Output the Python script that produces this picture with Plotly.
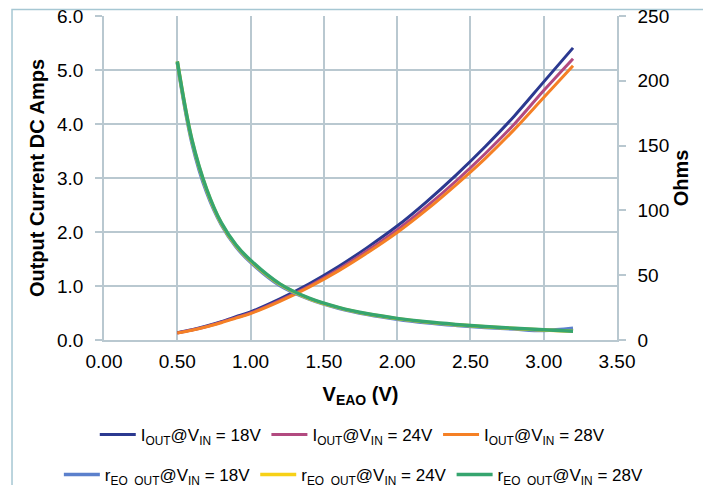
import plotly.graph_objects as go

v_eao = [0.5, 0.6, 0.7, 0.8, 0.9, 1.0, 1.2, 1.4, 1.6, 1.8, 2.0, 2.2, 2.4, 2.6, 2.8, 3.0, 3.2]

iout_18 = [0.135, 0.19, 0.26, 0.34, 0.43, 0.52, 0.76, 1.04, 1.36, 1.72, 2.11, 2.56, 3.05, 3.58, 4.15, 4.78, 5.41]
iout_24 = [0.13, 0.185, 0.25, 0.33, 0.415, 0.50, 0.735, 1.00, 1.31, 1.66, 2.04, 2.47, 2.94, 3.45, 4.00, 4.62, 5.21]
iout_28 = [0.13, 0.18, 0.245, 0.32, 0.405, 0.49, 0.715, 0.98, 1.28, 1.62, 1.99, 2.41, 2.87, 3.36, 3.90, 4.49, 5.08]

r_18 = [214, 152, 114, 89, 72, 60, 42, 31.5, 24.5, 19.6, 16.0, 13.3, 11.3, 9.7, 8.4, 7.3, 9.0]
r_24 = [215, 154, 116, 90, 73, 61, 43, 32, 25, 20, 16.5, 13.8, 11.8, 10.2, 8.9, 7.8, 6.8]
r_28 = [215, 154.5, 116.5, 90.5, 73.5, 61.5, 43.3, 32.3, 25.2, 20.2, 16.7, 14.0, 12.0, 10.4, 9.0, 7.9, 6.8]

x_ticks = [0.0, 0.5, 1.0, 1.5, 2.0, 2.5, 3.0, 3.5]
y_ticks = [0, 1, 2, 3, 4, 5, 6]
y2_ticks = [0, 50, 100, 150, 200, 250]

names_i = ["I<sub>OUT</sub>@V<sub>IN</sub> = 18V", "I<sub>OUT</sub>@V<sub>IN</sub> = 24V", "I<sub>OUT</sub>@V<sub>IN</sub> = 28V"]
names_r = ["r<sub>EO_OUT</sub>@V<sub>IN</sub> = 18V", "r<sub>EO_OUT</sub>@V<sub>IN</sub> = 24V", "r<sub>EO_OUT</sub>@V<sub>IN</sub> = 28V"]

col_i = ["#2b3990", "#b24a80", "#f58025"]
col_r = ["#5b80cc", "#f7d117", "#36a56f"]

FONT = "Liberation Sans, Arial, sans-serif"
GRID = "#b9c8d0"

fig = go.Figure()
for ys, nm, c in zip([iout_18, iout_24, iout_28], names_i, col_i):
    fig.add_trace(go.Scatter(x=v_eao, y=ys, name=nm, mode="lines",
                             line=dict(color=c, width=3, shape="spline"),
                             legend="legend"))
for ys, nm, c in zip([r_18, r_24, r_28], names_r, col_r):
    fig.add_trace(go.Scatter(x=v_eao, y=ys, name=nm, mode="lines", yaxis="y2",
                             line=dict(color=c, width=3.5, shape="spline"),
                             legend="legend2"))

fig.update_layout(
    width=703, height=477,
    margin=dict(l=96, r=94, t=8, b=145, autoexpand=False),
    paper_bgcolor="white", plot_bgcolor="white",
    font=dict(family=FONT, size=17, color="#000000"),
    xaxis=dict(range=[0, 3.5], tickvals=x_ticks, tickformat=".2f",
               showgrid=True, gridcolor=GRID, gridwidth=1.5,
               showline=True, linecolor=GRID, linewidth=1.5,
               zeroline=False, ticks="", ticklen=0, automargin=False,
               tickfont=dict(size=19), ticklabelstandoff=3, ticklabeloverflow="allow",
               title=dict(text="<b>V<sub>EAO</sub> (V)</b>", font=dict(size=20), standoff=16)),
    yaxis=dict(range=[0, 6], tickvals=y_ticks, tickformat=".1f",
               showgrid=True, gridcolor=GRID, gridwidth=1.5,
               showline=True, linecolor=GRID, linewidth=1.5, automargin=False,
               zeroline=False, ticks="outside", ticklen=7, tickcolor=GRID, tickwidth=1.5,
               tickfont=dict(size=19), ticklabelstandoff=8, ticklabeloverflow="allow",
               title=dict(text="<b>Output Current DC Amps</b>", font=dict(size=20), standoff=7)),
    yaxis2=dict(range=[0, 250], tickvals=y2_ticks, overlaying="y", side="right",
                showgrid=False, showline=True, linecolor=GRID, linewidth=1.5, automargin=False,
                zeroline=False, ticks="outside", ticklen=7, tickcolor=GRID, tickwidth=1.5,
                tickfont=dict(size=19), ticklabelstandoff=8, ticklabeloverflow="allow",
                title=dict(text="<b>Ohms</b>", font=dict(size=20), standoff=6)),
    legend=dict(orientation="h", x=-0.018, xanchor="left", y=-0.293, yanchor="middle",
                bgcolor="rgba(0,0,0,0)", font=dict(size=17), itemwidth=36,
                tracegroupgap=0),
    legend2=dict(orientation="h", x=-0.088, xanchor="left", y=-0.4167, yanchor="middle",
                 bgcolor="rgba(0,0,0,0)", font=dict(size=17), itemwidth=36,
                 tracegroupgap=0),
    showlegend=True,
    shapes=[dict(type="rect", xref="paper", yref="paper",
                 x0=-0.1793, x1=1.1754, y0=-0.5, y1=1.0201,
                 line=dict(color="#a6c7d3", width=1.5), layer="below")],
)

fig.write_html("out.html")
